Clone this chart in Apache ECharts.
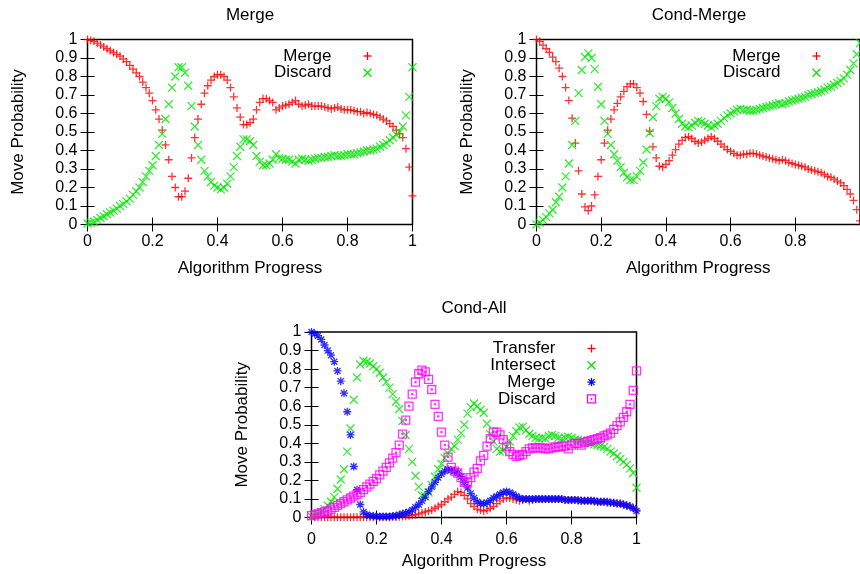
<!DOCTYPE html>
<html>
<head>
<meta charset="utf-8">
<title>Move Probability</title>
<script src="https://cdn.jsdelivr.net/npm/echarts@6/dist/echarts.min.js"></script>
<style>
  html, body { margin: 0; padding: 0; background: #fff; }
  #chart { width: 860px; height: 574px; }
</style>
</head>
<body>
<div id="chart"></div>
<script>
// sampled every 0.01 of algorithm progress (101 samples per series)
var mergeMerge = [
  1.0, 0.995, 0.99, 0.98, 0.97, 0.96, 0.95, 0.94, 0.93, 0.92,
  0.91, 0.895, 0.88, 0.86, 0.84, 0.82, 0.80, 0.77, 0.74, 0.71,
  0.67, 0.62, 0.57, 0.51, 0.43, 0.35, 0.26, 0.20, 0.15, 0.15,
  0.18, 0.25, 0.36, 0.47, 0.57, 0.65, 0.71, 0.75, 0.78, 0.80,
  0.81, 0.81, 0.80, 0.78, 0.74, 0.69, 0.63, 0.58, 0.54, 0.54,
  0.55, 0.57, 0.62, 0.66, 0.68, 0.68, 0.67, 0.66, 0.62, 0.63,
  0.64, 0.645, 0.65, 0.66, 0.67, 0.65, 0.64, 0.645, 0.65, 0.64,
  0.64, 0.64, 0.64, 0.635, 0.63, 0.625, 0.63, 0.635, 0.625, 0.62,
  0.62, 0.62, 0.615, 0.61, 0.61, 0.60, 0.605, 0.60, 0.595, 0.59,
  0.58, 0.57, 0.56, 0.545, 0.53, 0.51, 0.49, 0.47, 0.41, 0.31,
  0.155
];
var mergeDiscard = [
  0.005, 0.01, 0.015, 0.025, 0.035, 0.045, 0.055, 0.065, 0.075, 0.085,
  0.10, 0.11, 0.125, 0.14, 0.16, 0.18, 0.20, 0.23, 0.26, 0.29,
  0.32, 0.37, 0.43, 0.49, 0.57, 0.65, 0.74, 0.80, 0.85, 0.85,
  0.82, 0.75, 0.64, 0.53, 0.43, 0.35, 0.29, 0.26, 0.23, 0.21,
  0.20, 0.19, 0.20, 0.22, 0.26, 0.31, 0.37, 0.42, 0.46, 0.46,
  0.45, 0.43, 0.37, 0.34, 0.32, 0.32, 0.33, 0.35, 0.38, 0.36,
  0.355, 0.35, 0.35, 0.34, 0.33, 0.35, 0.355, 0.35, 0.345, 0.35,
  0.355, 0.36, 0.36, 0.365, 0.365, 0.37, 0.375, 0.37, 0.37, 0.375,
  0.38, 0.38, 0.38, 0.385, 0.39, 0.395, 0.40, 0.40, 0.405, 0.41,
  0.42, 0.43, 0.44, 0.455, 0.47, 0.485, 0.50, 0.53, 0.59, 0.69,
  0.85
];
var condMergeMerge = [
  1.0, 0.99, 0.97, 0.95, 0.93, 0.905, 0.88, 0.845, 0.80, 0.74,
  0.67, 0.575, 0.44, 0.29, 0.165, 0.095, 0.075, 0.10, 0.16, 0.26,
  0.35, 0.44, 0.51, 0.57, 0.62, 0.655, 0.69, 0.72, 0.745, 0.76,
  0.76, 0.74, 0.71, 0.665, 0.595, 0.505, 0.42, 0.36, 0.315, 0.31,
  0.325, 0.345, 0.375, 0.405, 0.435, 0.455, 0.47, 0.475, 0.465, 0.45,
  0.44, 0.445, 0.455, 0.465, 0.475, 0.465, 0.45, 0.435, 0.42, 0.405,
  0.395, 0.385, 0.375, 0.375, 0.38, 0.38, 0.385, 0.385, 0.38, 0.375,
  0.37, 0.365, 0.36, 0.355, 0.35, 0.345, 0.35, 0.345, 0.335, 0.33,
  0.325, 0.32, 0.315, 0.31, 0.30, 0.295, 0.29, 0.285, 0.28, 0.27,
  0.26, 0.255, 0.245, 0.235, 0.225, 0.21, 0.19, 0.165, 0.13, 0.08,
  0.02
];
var condMergeDiscard = [
  0.0, 0.01, 0.025, 0.04, 0.06, 0.08, 0.12, 0.15, 0.20, 0.26,
  0.33, 0.43, 0.56, 0.71, 0.835, 0.905, 0.925, 0.90, 0.84, 0.745,
  0.65, 0.56, 0.49, 0.43, 0.38, 0.345, 0.31, 0.28, 0.255, 0.24,
  0.24, 0.26, 0.29, 0.335, 0.405, 0.495, 0.58, 0.64, 0.68, 0.69,
  0.68, 0.66, 0.63, 0.60, 0.57, 0.545, 0.53, 0.525, 0.535, 0.55,
  0.56, 0.555, 0.545, 0.535, 0.525, 0.535, 0.545, 0.56, 0.575, 0.59,
  0.60, 0.61, 0.62, 0.625, 0.62, 0.62, 0.615, 0.615, 0.62, 0.625,
  0.63, 0.635, 0.64, 0.645, 0.65, 0.655, 0.65, 0.655, 0.665, 0.67,
  0.675, 0.68, 0.685, 0.69, 0.70, 0.705, 0.71, 0.715, 0.72, 0.73,
  0.74, 0.745, 0.755, 0.765, 0.775, 0.79, 0.81, 0.835, 0.87, 0.92,
  0.98
];
var condAllTransfer = [
  0.002, 0.002, 0.002, 0.002, 0.002, 0.002, 0.002, 0.002, 0.002, 0.002,
  0.002, 0.002, 0.002, 0.002, 0.002, 0.002, 0.002, 0.002, 0.002, 0.002,
  0.002, 0.002, 0.002, 0.002, 0.002, 0.003, 0.003, 0.004, 0.005, 0.007,
  0.01, 0.012, 0.015, 0.02, 0.025, 0.03, 0.035, 0.04, 0.05, 0.06,
  0.07, 0.085, 0.10, 0.11, 0.125, 0.14, 0.135, 0.12, 0.10, 0.075,
  0.06, 0.045, 0.04, 0.035, 0.04, 0.05, 0.06, 0.075, 0.09, 0.10,
  0.105, 0.105, 0.10, 0.095, 0.09, 0.095, 0.10, 0.09, 0.095, 0.10,
  0.10, 0.10, 0.10, 0.10, 0.10, 0.10, 0.10, 0.10, 0.095, 0.095,
  0.095, 0.095, 0.09, 0.09, 0.09, 0.09, 0.09, 0.085, 0.085, 0.085,
  0.085, 0.08, 0.08, 0.08, 0.075, 0.075, 0.07, 0.065, 0.06, 0.05,
  0.04
];
var condAllIntersect = [
  0.005, 0.01, 0.02, 0.03, 0.045, 0.065, 0.085, 0.11, 0.155, 0.205,
  0.26, 0.355, 0.48, 0.635, 0.755, 0.825, 0.845, 0.84, 0.83, 0.815,
  0.80, 0.78, 0.755, 0.73, 0.70, 0.665, 0.625, 0.585, 0.52, 0.445,
  0.37, 0.30, 0.225, 0.165, 0.12, 0.115, 0.135, 0.175, 0.22, 0.26,
  0.29, 0.32, 0.345, 0.37, 0.385, 0.42, 0.455, 0.50, 0.56, 0.595,
  0.615, 0.60, 0.58, 0.565, 0.505, 0.45, 0.41, 0.37, 0.355, 0.36,
  0.38, 0.41, 0.44, 0.465, 0.485, 0.49, 0.47, 0.45, 0.44, 0.43,
  0.425, 0.43, 0.425, 0.44, 0.445, 0.44, 0.43, 0.425, 0.43, 0.435,
  0.43, 0.42, 0.42, 0.415, 0.41, 0.405, 0.40, 0.395, 0.39, 0.385,
  0.38, 0.37, 0.355, 0.345, 0.33, 0.315, 0.30, 0.285, 0.265, 0.24,
  0.16
];
var condAllMerge = [
  1.0, 0.99, 0.98, 0.96, 0.93, 0.90, 0.875, 0.84, 0.79, 0.735,
  0.67, 0.57, 0.445, 0.275, 0.15, 0.07, 0.03, 0.015, 0.01, 0.008,
  0.005, 0.005, 0.005, 0.005, 0.005, 0.008, 0.01, 0.015, 0.02, 0.025,
  0.03, 0.04, 0.055, 0.07, 0.09, 0.11, 0.14, 0.165, 0.19, 0.215,
  0.235, 0.25, 0.26, 0.255, 0.25, 0.24, 0.22, 0.19, 0.16, 0.13,
  0.105, 0.085, 0.075, 0.075, 0.08, 0.09, 0.105, 0.115, 0.125, 0.135,
  0.14, 0.135, 0.125, 0.115, 0.105, 0.10, 0.10, 0.10, 0.10, 0.10,
  0.10, 0.10, 0.10, 0.10, 0.10, 0.10, 0.10, 0.10, 0.095, 0.095,
  0.095, 0.095, 0.095, 0.09, 0.09, 0.09, 0.09, 0.09, 0.085, 0.085,
  0.085, 0.085, 0.08, 0.08, 0.075, 0.075, 0.07, 0.065, 0.06, 0.05,
  0.035
];
var condAllDiscard = [
  0.01, 0.015, 0.02, 0.025, 0.03, 0.035, 0.045, 0.055, 0.065, 0.075,
  0.085, 0.095, 0.105, 0.115, 0.125, 0.135, 0.15, 0.165, 0.18, 0.195,
  0.21, 0.23, 0.25, 0.27, 0.295, 0.32, 0.35, 0.39, 0.45, 0.525,
  0.60, 0.665, 0.73, 0.775, 0.795, 0.785, 0.745, 0.69, 0.61, 0.545,
  0.46, 0.39, 0.325, 0.27, 0.25, 0.24, 0.215, 0.19, 0.19, 0.215,
  0.245, 0.265, 0.305, 0.335, 0.385, 0.425, 0.46, 0.46, 0.445, 0.42,
  0.385, 0.355, 0.34, 0.33, 0.335, 0.34, 0.355, 0.37, 0.375, 0.375,
  0.375, 0.375, 0.37, 0.37, 0.375, 0.38, 0.38, 0.385, 0.385, 0.37,
  0.39, 0.40, 0.40, 0.39, 0.405, 0.41, 0.415, 0.42, 0.425, 0.43,
  0.44, 0.445, 0.455, 0.475, 0.495, 0.515, 0.54, 0.57, 0.61, 0.685,
  0.79
];

var xStep = 0.2;
var yStep = 0.1;

var FONT = '"Liberation Sans", Arial, Helvetica, sans-serif';
var SHAPES = {
  plus: 'M0,4L8,4M4,0L4,8',
  cross: 'M0,0L8,8M0,8L8,0',
  star: 'M0,4L8,4M4,0L4,8M1,1L7,7M1,7L7,1',
  box: 'M0,0L8,0L8,8L0,8ZM3.5,3.5L4.5,3.5L4.5,4.5L3.5,4.5Z'
};
// same shapes as strokes for the key samples (graphic has no free path type)
var KEY_SEGMENTS = {
  plus: [[0, 4, 8, 4], [4, 0, 4, 8]],
  cross: [[0, 0, 8, 8], [0, 8, 8, 0]],
  star: [[0, 4, 8, 4], [4, 0, 4, 8], [1, 1, 7, 7], [1, 7, 7, 1]],
  box: []
};

var panels = [
  { title: 'Merge', left: 87.5, top: 39.5, width: 325, height: 185, labelMargin: 9.5,
    series: [
      { label: 'Merge', values: mergeMerge, color: '#ff0000', shape: 'plus' },
      { label: 'Discard', values: mergeDiscard, color: '#00e600', shape: 'cross' }
    ] },
  { title: 'Cond-Merge', left: 536.5, top: 39.5, width: 325, height: 185, labelMargin: 9.5,
    series: [
      { label: 'Merge', values: condMergeMerge, color: '#ff0000', shape: 'plus' },
      { label: 'Discard', values: condMergeDiscard, color: '#00e600', shape: 'cross' }
    ] },
  { title: 'Cond-All', left: 311.5, top: 332, width: 325, height: 185.5, labelMargin: 14,
    series: [
      { label: 'Transfer', values: condAllTransfer, color: '#ff0000', shape: 'plus' },
      { label: 'Intersect', values: condAllIntersect, color: '#00e600', shape: 'cross' },
      { label: 'Merge', values: condAllMerge, color: '#0000ff', shape: 'star' },
      { label: 'Discard', values: condAllDiscard, color: '#ff00ff', shape: 'box' }
    ] }
];

function toPoints(values) {
  return values.map(function(v, i) { return [i / 100, v]; });
}

function keySample(shape, color, cx, cy) {
  var children = KEY_SEGMENTS[shape].map(function(s) {
    return {
      type: 'line',
      shape: { x1: s[0] - 4, y1: s[1] - 4, x2: s[2] - 4, y2: s[3] - 4 },
      style: { stroke: color, lineWidth: 1.3 }
    };
  });
  if (shape === 'box') {
    children.push({ type: 'rect', shape: { x: -4, y: -4, width: 8, height: 8 },
      style: { stroke: color, fill: 'rgba(0,0,0,0)', lineWidth: 1.3 } });
    children.push({ type: 'rect', shape: { x: -0.5, y: -0.5, width: 1, height: 1 },
      style: { stroke: color, fill: 'rgba(0,0,0,0)', lineWidth: 1 } });
  }
  return { type: 'group', x: cx, y: cy, children: children };
}

var grids = [], xAxes = [], yAxes = [], seriesList = [], graphics = [];
var tickStyle = { inside: true, length: 7, lineStyle: { color: '#000', width: 1 } };
var tickFont = { fontSize: 16, color: '#000', fontFamily: FONT };
var nameFont = { fontSize: 17, color: '#000', fontFamily: FONT };

panels.forEach(function(p, pi) {
  grids.push({
    left: p.left, top: p.top, width: p.width, height: p.height,
    show: true, borderColor: '#000', borderWidth: 1.5, backgroundColor: 'rgba(0,0,0,0)'
  });

  xAxes.push({
    gridIndex: pi, type: 'value', min: 0, max: 1, interval: xStep, position: 'bottom',
    name: 'Algorithm Progress', nameLocation: 'middle', nameGap: 35,
    nameTextStyle: nameFont,
    axisLine: { show: false }, axisTick: tickStyle, splitLine: { show: false },
    axisLabel: Object.assign({ margin: p.labelMargin, showMaxLabel: pi !== 1 }, tickFont)
  });
  xAxes.push({
    gridIndex: pi, type: 'value', min: 0, max: 1, interval: xStep, position: 'top',
    axisLine: { show: false }, axisTick: tickStyle, splitLine: { show: false },
    axisLabel: { show: false }
  });
  yAxes.push({
    gridIndex: pi, type: 'value', min: 0, max: 1, interval: yStep, position: 'left',
    name: 'Move Probability', nameLocation: 'middle', nameGap: 60.5,
    nameTextStyle: nameFont,
    axisLine: { show: false }, axisTick: tickStyle, splitLine: { show: false },
    axisLabel: Object.assign({ margin: 10 }, tickFont)
  });
  yAxes.push({
    gridIndex: pi, type: 'value', min: 0, max: 1, interval: yStep, position: 'right',
    axisLine: { show: false }, axisTick: tickStyle, splitLine: { show: false },
    axisLabel: { show: false }
  });

  // panel title
  graphics.push({
    type: 'text', x: p.left + p.width / 2, y: p.top - 24,
    style: { text: p.title, font: '17px ' + FONT, fill: '#000', textAlign: 'center', textVerticalAlign: 'middle' }
  });

  p.series.forEach(function(s, si) {
    seriesList.push({
      type: 'scatter', name: p.title + ' / ' + s.label,
      xAxisIndex: pi * 2, yAxisIndex: pi * 2,
      data: toPoints(s.values),
      symbol: 'path://' + SHAPES[s.shape], symbolSize: 8,
      itemStyle: { color: 'rgba(0,0,0,0)', borderColor: s.color, borderWidth: 1.3 },
      clip: false, silent: true, z: 2 + si
    });

    // key, gnuplot style: right aligned text then sample point
    var rowY = p.top + 16.5 + si * 16.8;
    graphics.push({
      type: 'text', x: p.left + 244, y: rowY,
      style: { text: s.label, font: '17px ' + FONT, fill: '#000', textAlign: 'right', textVerticalAlign: 'middle' }
    });
    graphics.push(keySample(s.shape, s.color, p.left + 280, rowY));
  });
});

var chart = echarts.init(document.getElementById('chart'), null, { renderer: 'canvas' });
chart.setOption({
  animation: false,
  backgroundColor: '#fff',
  grid: grids,
  xAxis: xAxes,
  yAxis: yAxes,
  series: seriesList,
  graphic: { elements: graphics }
});
</script>
</body>
</html>
